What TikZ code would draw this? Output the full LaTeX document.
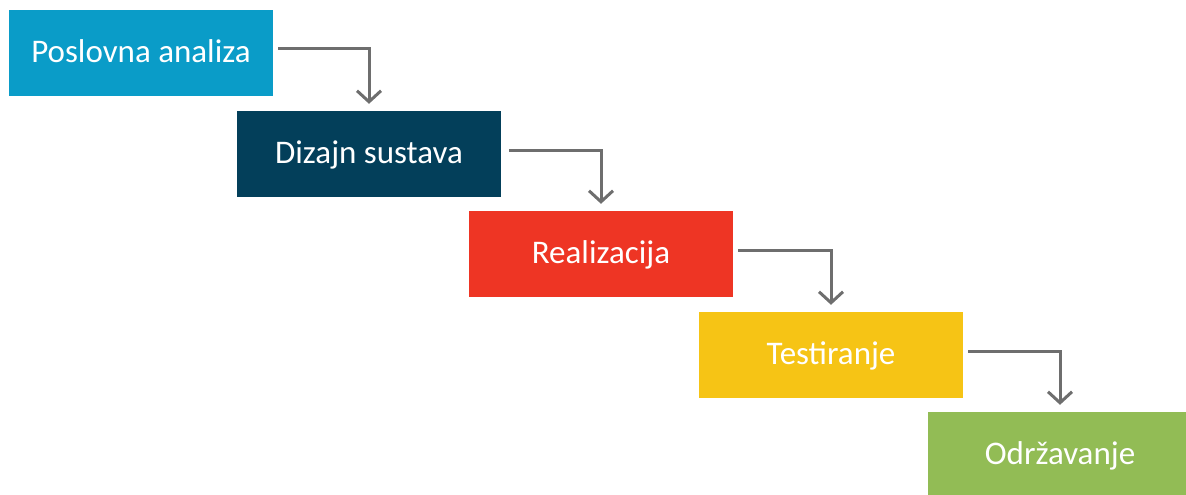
\documentclass[tikz,border=0pt]{standalone}
\usepackage{fontspec}
\setmainfont{Carlito}
\usetikzlibrary{positioning,arrows.meta}

\definecolor{cblue}{HTML}{0A9CC8}
\definecolor{cnavy}{HTML}{033F5A}
\definecolor{cred}{HTML}{EE3524}
\definecolor{cyellow}{HTML}{F6C415}
\definecolor{cgreen}{HTML}{92BC55}
\definecolor{cgray}{HTML}{6E6E6E}

\begin{document}
\begin{tikzpicture}[
x=1pt,y=-1pt,
phase/.style={rectangle,minimum width=264pt,minimum height=86pt,inner sep=0pt,
  text=white,font=\fontsize{33}{38}\selectfont,text depth=4pt},
flow/.style={draw=cgray,line width=3pt,-{Straight Barb[length=11pt,width=24pt]}},
]
\useasboundingbox (0,0) rectangle (1186,495);

\node[phase,fill=cblue] (p1) at (141,53) {Poslovna analiza};
\node[phase,fill=cnavy] (p2) at (369,154) {Dizajn sustava};
\node[phase,fill=cred] (p3) at (601,254) {Realizacija};
\node[phase,fill=cyellow] (p4) at (831,355) {Testiranje};
\node[phase,fill=cgreen] (p5) at (1060,455) {Održavanje};

\draw[flow] ([xshift=5pt,yshift=4pt]p1.east) -| ([yshift=7pt]p2.north);
\draw[flow] ([xshift=8pt,yshift=4pt]p2.east) -| ([yshift=7pt]p3.north);
\draw[flow] ([xshift=5pt,yshift=4pt]p3.east) -| ([yshift=7pt]p4.north);
\draw[flow] ([xshift=5pt,yshift=4pt]p4.east) -| ([yshift=7pt]p5.north);

\end{tikzpicture}
\end{document}
